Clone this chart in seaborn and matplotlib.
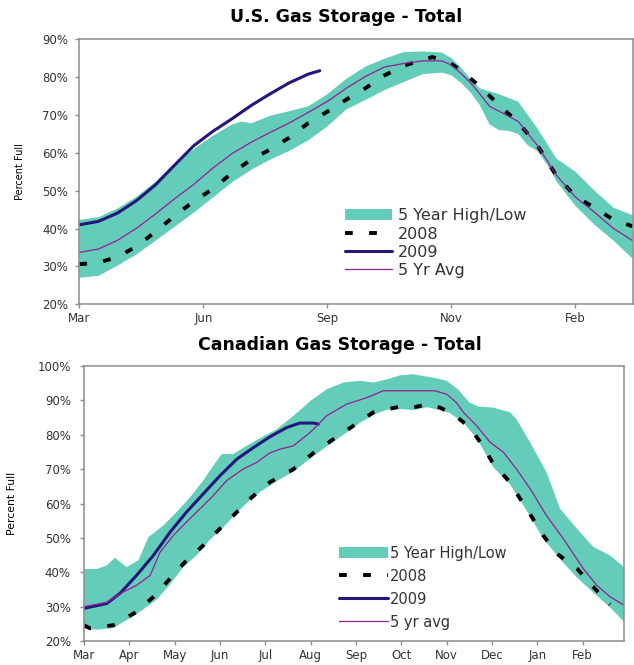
import matplotlib
matplotlib.use("Agg")
import matplotlib.pyplot as plt
import seaborn as sns

# ---- U.S. storage, x = weeks from start of March ----
us_ticks = [0, 13, 26, 39, 52]
us_tick_labels = ["Mar", "Jun", "Sep", "Nov", "Feb"]

us_hi_wk = [0, 2, 4, 6, 8, 10, 12, 14, 16, 17, 18, 20, 22, 24, 26, 28, 30, 32, 34,
            36, 38, 39, 40, 41, 42, 44, 46, 48, 50, 52, 54, 56, 58]
us_hi = [42.3, 43.0, 45.3, 48.4, 52.4, 57.2, 61.0, 64.5, 67.5, 68.3, 67.8, 69.8, 71.0,
         72.3, 75.5, 79.6, 82.8, 84.9, 86.6, 86.8, 86.5, 85.0, 82.5, 79.5, 77.0, 75.5,
         73.5, 66.5, 58.5, 55.0, 50.0, 45.5, 43.5]

us_lo_wk = [0, 2, 4, 6, 8, 10, 12, 14, 16, 18, 20, 22, 24, 26, 28, 30, 32, 34, 36, 38,
            39, 40, 41, 42, 43, 44, 45, 46, 47, 48, 49, 50, 52, 54, 56, 58]
us_lo = [27.0, 27.5, 30.2, 33.2, 36.8, 40.5, 44.2, 48.2, 52.2, 55.5, 58.2, 60.5, 63.3,
         67.0, 71.5, 74.0, 76.6, 78.7, 80.8, 81.2, 80.5, 78.5, 76.0, 72.5, 67.5, 66.0,
         65.8, 65.0, 62.0, 60.5, 57.0, 52.5, 46.0, 41.0, 36.8, 32.0]

us_2008_wk = [0, 2, 4, 6, 8, 10, 12, 14, 16, 18, 20, 22, 24, 26, 28, 30, 32, 34, 36,
              37, 38, 39, 40, 42, 44, 46, 48, 50, 52, 54, 56, 58]
us_2008 = [30.6, 31.0, 32.5, 35.3, 39.2, 43.4, 47.2, 50.5, 54.7, 58.2, 60.9, 64.0, 67.9,
           70.9, 74.1, 77.1, 80.5, 83.0, 84.6, 85.3, 84.5, 83.5, 81.8, 77.5, 72.6, 68.0,
           62.0, 54.0, 48.5, 45.5, 42.3, 40.6]

us_2009_wk = [0, 2, 4, 6, 8, 10, 12, 14, 16, 18, 20, 22, 24, 25.2]
us_2009 = [41.0, 41.9, 44.1, 47.4, 51.6, 56.8, 61.9, 65.7, 69.0, 72.5, 75.6, 78.5,
           80.8, 81.7]

us_avg_wk = [0, 2, 4, 6, 8, 10, 12, 14, 16, 18, 20, 22, 24, 26, 28, 30, 32, 34, 36, 38,
             39, 40, 41, 42, 43, 44, 46, 48, 50, 52, 54, 56, 58]
us_avg = [33.7, 34.6, 36.9, 40.1, 43.9, 47.9, 51.7, 56.0, 59.8, 62.8, 65.4, 67.9, 70.7,
          73.6, 77.1, 80.2, 82.7, 83.6, 84.3, 84.3, 83.2, 81.0, 78.5, 75.5, 72.3, 71.0,
          68.3, 62.0, 54.1, 48.3, 44.3, 40.0, 36.8]

# ---- Canadian storage, x = months from start of March ----
ca_ticks = list(range(12))
ca_tick_labels = ["Mar", "Apr", "May", "Jun", "Jul", "Aug", "Sep", "Oct", "Nov",
                  "Dec", "Jan", "Feb"]

ca_hi_mo = [0, 0.3, 0.5, 0.68, 0.94, 1.2, 1.42, 1.75, 2.04, 2.34, 2.63, 2.85, 3.04,
            3.29, 3.59, 3.88, 4.25, 4.62, 5.0, 5.35, 5.72, 6.09, 6.38, 6.68, 6.97, 7.26,
            7.71, 8.0, 8.25, 8.5, 8.7, 9.03, 9.4, 9.54, 9.84, 10.2, 10.5, 10.87, 11.24,
            11.6, 11.91]
ca_hi = [40.9, 41.0, 42.0, 44.2, 41.5, 43.5, 50.2, 53.6, 57.5, 61.8, 66.7, 71.0, 74.4,
         74.4, 76.8, 79.0, 81.6, 85.5, 89.9, 93.2, 95.2, 95.7, 95.2, 96.1, 97.3, 97.6,
         96.6, 95.7, 93.2, 89.4, 88.2, 87.9, 86.5, 84.5, 77.8, 69.1, 58.5, 52.7, 47.3,
         44.9, 41.5]

ca_lo_mo = [0, 0.3, 0.65, 1.16, 1.6, 1.9, 2.19, 2.49, 2.78, 3.07, 3.37, 3.66, 3.9,
            4.25, 4.62, 5.0, 5.35, 5.72, 6.09, 6.38, 6.68, 6.97, 7.26, 7.56, 7.85, 8.07,
            8.37, 8.66, 9.03, 9.4, 9.76, 10.13, 10.5, 10.87, 11.24, 11.6, 11.91]
ca_lo = [23.6, 23.3, 23.8, 27.8, 32.0, 36.5, 41.5, 45.0, 49.5, 53.0, 57.3, 61.0, 63.5,
         66.5, 69.3, 73.2, 76.6, 80.0, 83.5, 85.8, 87.3, 87.5, 87.2, 88.0, 87.2, 86.3,
         83.5, 79.0, 70.5, 65.5, 58.0, 49.8, 43.8, 38.5, 34.0, 29.8, 25.6]

ca_2008_mo = [0, 0.13, 0.65, 1.16, 1.57, 1.9, 2.23, 2.63, 3.0, 3.37, 3.7, 4.1, 4.62,
              5.06, 5.5, 5.94, 6.38, 6.97, 7.26, 7.56, 7.85, 8.15, 8.51, 8.77, 9.03,
              9.36, 9.62, 9.88, 10.13, 10.43, 10.87, 11.2, 11.6]
ca_2008 = [24.6, 23.7, 24.6, 28.5, 33.3, 38.2, 43.0, 47.8, 52.7, 57.5, 61.8, 66.2, 70.0,
           74.7, 78.7, 82.6, 86.5, 88.2, 87.9, 88.9, 87.9, 86.0, 82.1, 77.3, 71.5, 66.7,
           61.4, 56.0, 50.7, 45.4, 41.1, 36.2, 30.6]

ca_2009_mo = [0, 0.5, 0.79, 1.16, 1.53, 1.9, 2.26, 2.63, 3.0, 3.37, 3.74, 4.1, 4.47,
              4.76, 5.06, 5.17]
ca_2009 = [29.5, 30.9, 33.8, 39.1, 44.9, 51.7, 57.5, 62.8, 68.1, 72.9, 76.3, 79.4, 82.1,
           83.4, 83.4, 83.1]

ca_avg_mo = [0, 0.5, 0.87, 1.16, 1.46, 1.68, 1.97, 2.26, 2.63, 2.85, 3.15, 3.51, 3.81,
             4.1, 4.32, 4.62, 4.99, 5.35, 5.79, 6.24, 6.6, 6.97, 7.41, 7.74, 8.0, 8.21,
             8.37, 8.66, 8.96, 9.25, 9.54, 9.84, 10.2, 10.57, 11.01, 11.31, 11.6, 11.91]
ca_avg = [30.0, 31.2, 34.3, 36.2, 39.1, 45.9, 50.7, 54.6, 59.4, 62.3, 66.7, 70.0, 72.0,
          74.7, 75.8, 76.8, 80.7, 85.5, 88.9, 90.8, 92.8, 92.8, 92.8, 92.8, 91.8, 89.4,
          86.5, 82.6, 77.8, 74.9, 70.0, 64.3, 56.5, 49.8, 41.1, 36.2, 32.9, 30.4]

sns.set_style("ticks")
plt.rcParams["font.family"] = ["DejaVu Sans"]

TEAL = "#63CDB9"
NAVY = "#23177C"
PURPLE = "#951E95"
GREY = "#8C8C8C"
TXT = "#333333"


def draw(ax, hi_x, hi, lo_x, lo, x08, y08, x09, y09, xavg, yavg):
    band = ax.fill(list(hi_x) + list(lo_x)[::-1], list(hi) + list(lo)[::-1],
                   color=TEAL, lw=0)[0]
    sns.lineplot(x=x08, y=y08, ax=ax, color="black", linewidth=2.8,
                 estimator=None, sort=False)
    l08 = ax.lines[-1]
    l08.set_linestyle((0, (2.0, 4.2)))
    sns.lineplot(x=x09, y=y09, ax=ax, color=NAVY, linewidth=2.2,
                 estimator=None, sort=False)
    l09 = ax.lines[-1]
    sns.lineplot(x=xavg, y=yavg, ax=ax, color=PURPLE, linewidth=0.9,
                 estimator=None, sort=False)
    lavg = ax.lines[-1]
    return [band, l08, l09, lavg]


def style(ax, ylo, yhi, ypad):
    ax.set_ylim(ylo, yhi)
    yt = list(range(ylo, yhi + 1, 10))
    ax.set_yticks(yt)
    ax.set_yticklabels([f"{v}%" for v in yt])
    for s in ax.spines.values():
        s.set_color(GREY)
        s.set_linewidth(1.1)
    ax.tick_params(axis="both", direction="out", length=3, width=1, color=GREY,
                   labelsize=8.5, labelcolor=TXT)
    ax.tick_params(axis="y", pad=ypad)
    ax.tick_params(axis="x", pad=2.5)
    ax.set_xlabel("")


fig = plt.figure(figsize=(6.34, 6.65), dpi=100)
ax1 = fig.add_axes([0.1251, 0.5424, 0.8729, 0.3985])
ax2 = fig.add_axes([0.1325, 0.0361, 0.8517, 0.4135])

# U.S.
h1 = draw(ax1, us_hi_wk, us_hi, us_lo_wk, us_lo, us_2008_wk, us_2008,
          us_2009_wk, us_2009, us_avg_wk, us_avg)
ax1.set_xlim(0, 58)
ax1.set_xticks(us_ticks)
ax1.set_xticklabels(us_tick_labels)
style(ax1, 20, 90, 5)
ax1.set_ylabel("Percent Full", fontsize=7, color="black")
ax1.yaxis.set_label_coords(-0.098, 0.5)
ax1.legend(h1, ["5 Year High/Low", "2008", "2009", "5 Yr Avg"], loc="upper left",
           bbox_to_anchor=(0.480, 0.362), frameon=False, fontsize=11.5,
           borderpad=0, borderaxespad=0, handlelength=2.95, handletextpad=0.36,
           labelspacing=0.2, labelcolor=TXT)

# Canada
h2 = draw(ax2, ca_hi_mo, ca_hi, ca_lo_mo, ca_lo, ca_2008_mo, ca_2008,
          ca_2009_mo, ca_2009, ca_avg_mo, ca_avg)
ax2.set_xlim(0, 11.91)
ax2.set_xticks(ca_ticks)
ax2.set_xticklabels(ca_tick_labels)
style(ax2, 20, 100, 6.5)
ax2.set_ylabel("Percent Full", fontsize=7.8, color="black")
ax2.yaxis.set_label_coords(-0.124, 0.5)
ax2.legend(h2, ["5 Year High/Low", "2008", "2009", "5 yr avg"], loc="upper left",
           bbox_to_anchor=(0.473, 0.347), frameon=False, fontsize=10.5,
           borderpad=0, borderaxespad=0, handlelength=3.35, handletextpad=0.12,
           handleheight=0.75, labelspacing=0.55, labelcolor=TXT)

fig.text(346 / 634, 1 - 16.5 / 665, "U.S. Gas Storage - Total", ha="center",
         va="center", fontsize=12.5, fontweight="bold", color="black")
fig.text(340 / 634, 1 - 345 / 665, "Canadian Gas Storage - Total", ha="center",
         va="center", fontsize=12.5, fontweight="bold", color="black")

fig.savefig("out.png", dpi=100)
